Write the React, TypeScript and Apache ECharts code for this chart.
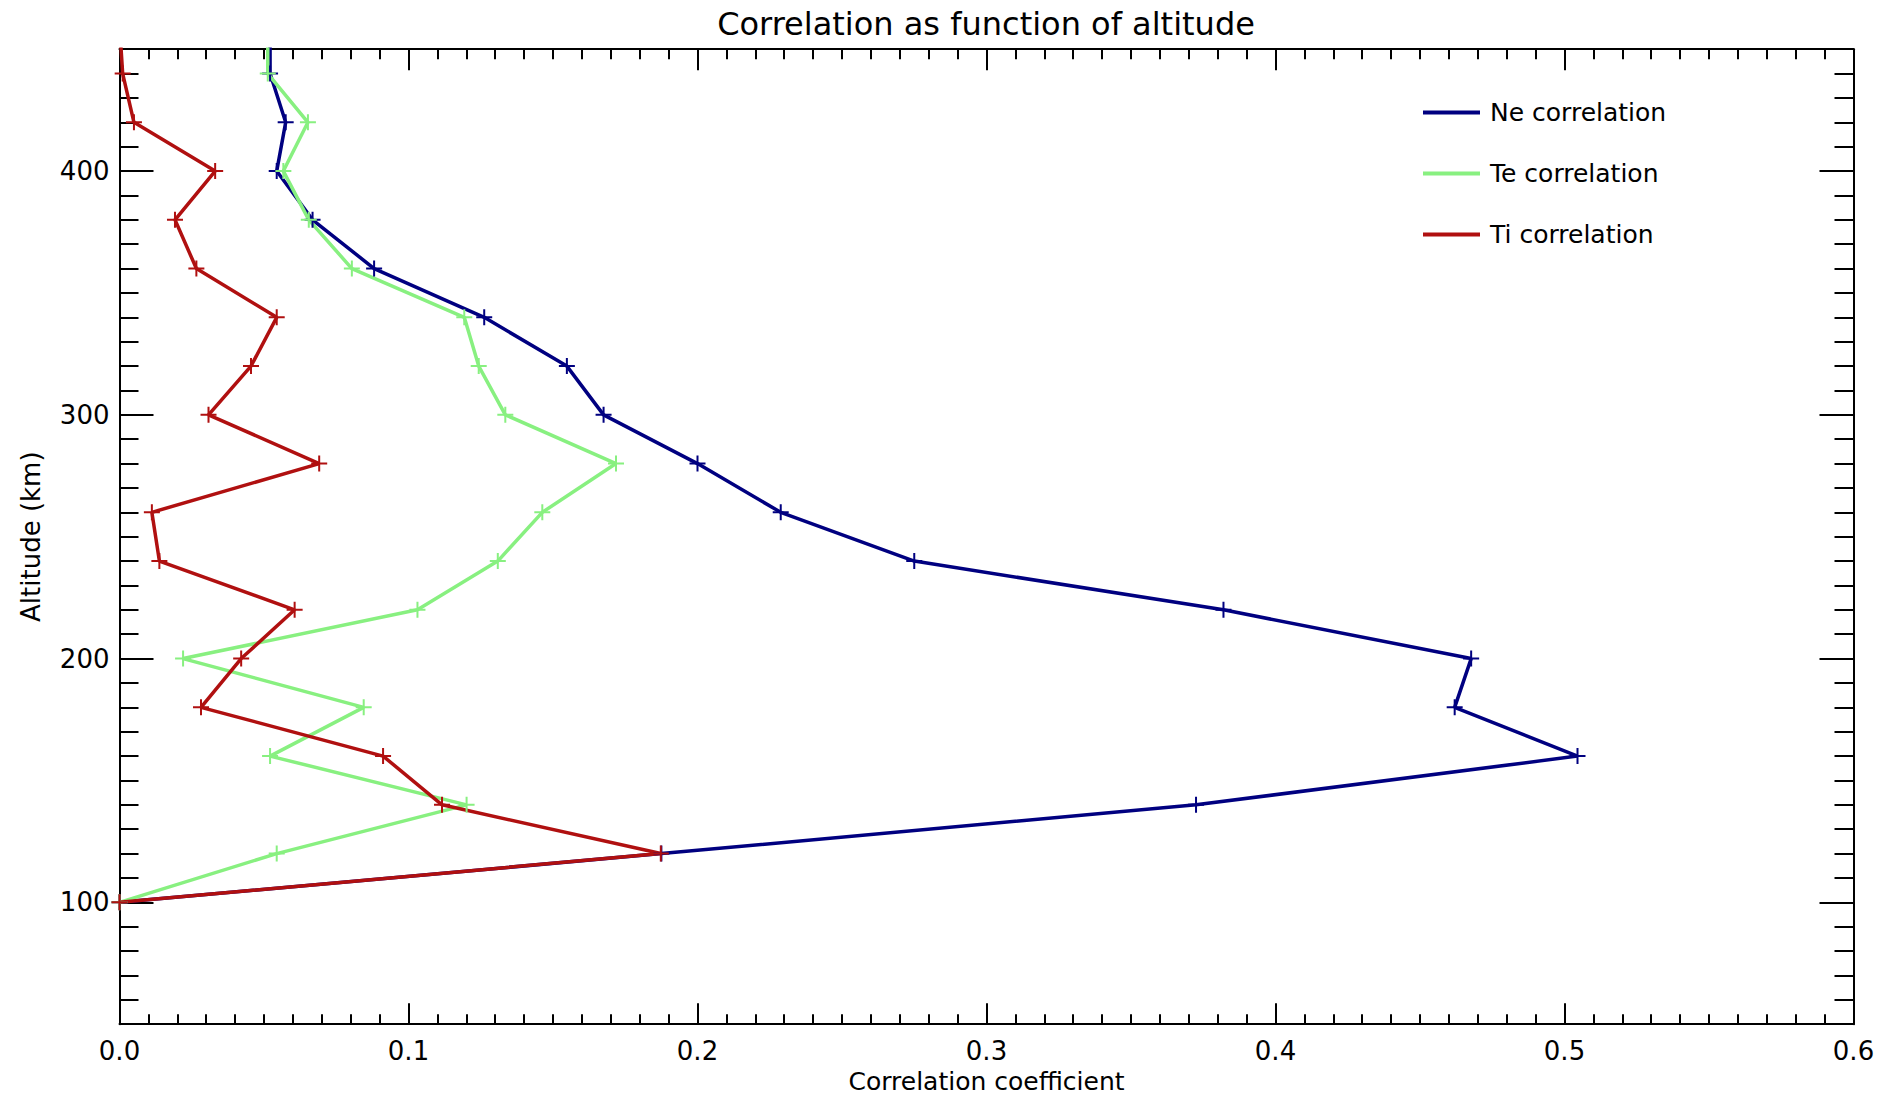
import React, { useEffect, useRef } from "react";
import * as echarts from "echarts";

const altitudes = [100, 120, 140, 160, 180, 200, 220, 240, 260, 280, 300, 320, 340, 360, 380, 400, 420, 440, 460];
const neCorr = [0.0, 0.1875, 0.3725, 0.5045, 0.462, 0.4677, 0.382, 0.275, 0.2288, 0.2, 0.1675, 0.1548, 0.1262, 0.0881, 0.0668, 0.0544, 0.0575, 0.0521, 0.0521];
const teCorr = [0.0, 0.0544, 0.1201, 0.0521, 0.0845, 0.022, 0.1031, 0.1309, 0.1463, 0.1718, 0.1335, 0.1243, 0.1193, 0.0804, 0.0655, 0.0567, 0.0652, 0.0513, 0.0513];
const tiCorr = [0.0, 0.1873, 0.1116, 0.0912, 0.0282, 0.0421, 0.0606, 0.0138, 0.0112, 0.0691, 0.0308, 0.0455, 0.0544, 0.0266, 0.0192, 0.0331, 0.005, 0.0011, 0.0];
const seriesNames = ["Ne correlation", "Te correlation", "Ti correlation"];
const seriesColors = ["#000080", "#88f080", "#b01010"];
const altTickLabels = [100, 200, 300, 400];

const FONT = "DejaVu Sans";
const PLUS = "path://M10,0 L10,20 M0,10 L20,10";

export default function App() {
  const ref = useRef<HTMLDivElement>(null);
  useEffect(() => {
    if (!ref.current) return;
    const chart = echarts.init(ref.current, undefined, { renderer: "svg" });
    const allData = [neCorr, teCorr, tiCorr];
    const series = allData.map((vals, i) => ({
      name: seriesNames[i],
      type: "line",
      xAxisIndex: 0,
      yAxisIndex: 0,
      clip: true,
      data: vals.map((v, j) => [v, altitudes[j]]),
      symbol: PLUS,
      symbolSize: 16,
      showAllSymbol: true,
      lineStyle: { color: seriesColors[i], width: 3.5 },
      itemStyle: { color: seriesColors[i], borderColor: seriesColors[i], borderWidth: 2 },
      emphasis: { disabled: true },
    }));
    const axisLineStyle = { lineStyle: { color: "#000", width: 2 } };
    const xBase = {
      type: "value",
      min: 0,
      max: 0.6,
      interval: 0.1,
      axisLine: { show: true, ...axisLineStyle },
      axisTick: { show: true, inside: true, length: 21, lineStyle: { color: "#000", width: 2 } },
      minorTick: { show: true, splitNumber: 10, length: 10, lineStyle: { color: "#000", width: 2 } },
      splitLine: { show: false },
      minorSplitLine: { show: false },
    };
    const option = {
      animation: false,
      backgroundColor: "#fff",
      title: {
        text: "Correlation as function of altitude",
        left: 986,
        top: 8,
        textAlign: "center",
        padding: 0,
        textStyle: { fontFamily: FONT, fontSize: 32, fontWeight: "normal", color: "#000" },
      },
      legend: {
        orient: "vertical",
        left: 1418,
        top: 95,
        itemWidth: 57,
        itemHeight: 4,
        itemGap: 36,
        icon: "rect",
        data: seriesNames,
        itemStyle: { borderWidth: 0 },
        textStyle: { fontFamily: FONT, fontSize: 25, color: "#000", padding: [0, 0, 0, 5] },
      },
      grid: {
        left: 119.5,
        width: 1734,
        top: 49.2,
        height: 975,
        containLabel: false,
        outerBoundsMode: "none",
      },
      xAxis: [
        {
          ...xBase,
          position: "bottom",
          name: "Correlation coefficient",
          nameLocation: "middle",
          nameGap: 37,
          nameTextStyle: { fontFamily: FONT, fontSize: 25, lineHeight: 25, color: "#000" },
          axisLabel: {
            show: true,
            margin: 14,
            fontFamily: FONT,
            fontSize: 26,
            color: "#000",
            formatter: (v: number) => v.toFixed(1),
          },
        },
        { ...xBase, position: "top", axisLabel: { show: false } },
      ],
      yAxis: [
        {
          type: "value",
          position: "left",
          min: 50,
          max: 450,
          interval: 10,
          name: "Altitude (km)",
          nameLocation: "middle",
          nameGap: 76,
          nameTextStyle: { fontFamily: FONT, fontSize: 26, color: "#000" },
          axisLine: { show: true, ...axisLineStyle },
          axisTick: { show: true, inside: true, length: 19, lineStyle: { color: "#000", width: 2 } },
          axisLabel: { show: false },
          splitLine: { show: false },
        },
        {
          type: "value",
          position: "left",
          min: 50,
          max: 450,
          axisLine: { show: false },
          axisTick: { show: true, inside: true, length: 34, customValues: altTickLabels, lineStyle: { color: "#000", width: 2 } },
          axisLabel: { show: true, customValues: altTickLabels, margin: 10, fontFamily: FONT, fontSize: 26, color: "#000" },
          splitLine: { show: false },
        },
        {
          type: "value",
          position: "right",
          min: 50,
          max: 450,
          interval: 10,
          axisLine: { show: true, ...axisLineStyle },
          axisTick: { show: true, inside: true, length: 19, lineStyle: { color: "#000", width: 2 } },
          axisLabel: { show: false },
          splitLine: { show: false },
        },
        {
          type: "value",
          position: "right",
          min: 50,
          max: 450,
          axisLine: { show: false },
          axisTick: { show: true, inside: true, length: 34, customValues: altTickLabels, lineStyle: { color: "#000", width: 2 } },
          axisLabel: { show: false },
          splitLine: { show: false },
        },
      ],
      series,
    };
    chart.setOption(option as any);
    return () => chart.dispose();
  }, []);
  return (
    <div
      ref={ref}
      style={{ position: "absolute", left: 0, top: 0, width: 1877, height: 1093, background: "#fff" }}
    />
  );
}
